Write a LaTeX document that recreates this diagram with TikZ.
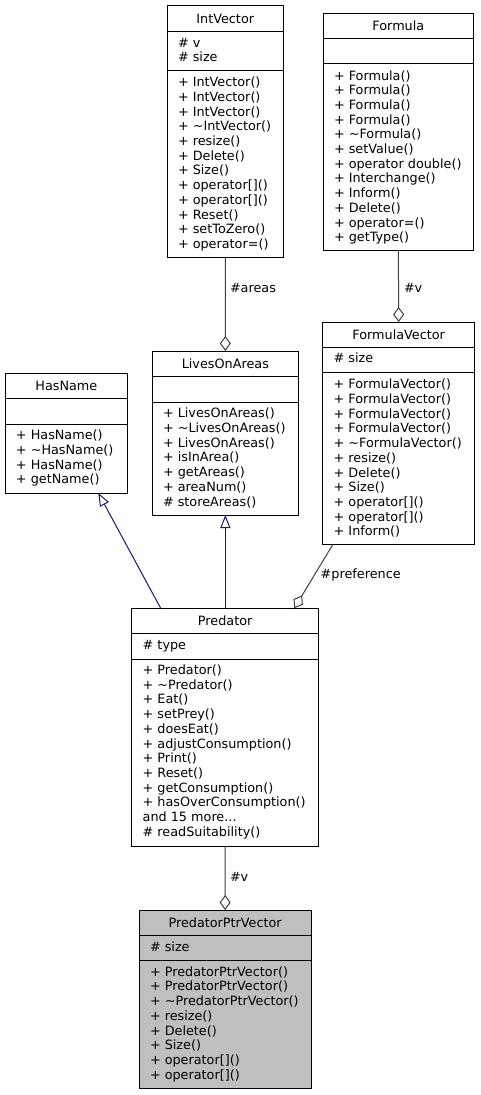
\documentclass[tikz,border=0pt]{standalone}
\usepackage{fontspec}
\setmainfont{DejaVu Sans}
\usetikzlibrary{arrows.meta}
\definecolor{aggcol}{HTML}{404040}
\definecolor{inhcol}{HTML}{191970}
\definecolor{hlfill}{HTML}{BFBFBF}
\tikzset{
  clsbox/.style={draw=black, line width=1pt, rectangle, inner sep=0pt, outer sep=0pt},
  clsline/.style={draw=black, line width=1pt},
  txt/.style={inner sep=0pt, outer sep=0pt, anchor=base west, font=\fontsize{12.8}{14.7}\selectfont},
  ttl/.style={inner sep=0pt, outer sep=0pt, anchor=base, font=\fontsize{12.8}{14.7}\selectfont},
  lbl/.style={inner sep=0pt, outer sep=0pt, anchor=west, font=\fontsize{12.8}{14.7}\selectfont},
  agg/.style={draw=aggcol, line width=1pt, -{Diamond[fill=white, length=15pt, width=11pt, line width=1pt]}},
  inh/.style={draw=inhcol, line width=1pt, -{Triangle[fill=white, length=13pt, width=10pt, line width=1pt]}},
}
% #1 name, #2 L, #3 R, #4 T, #5 S1, #6 S2, #7 B, #8 fill, #9 title
\newcommand{\clsboxdraw}[9]{%
  \node[clsbox, fill=#8, minimum width={(#3-#2)*1pt}, minimum height={(#7-#4)*1pt}] (#1) at ({(#2+#3)/2},{(#4+#7)/2}) {};
  \draw[clsline] (#2,#5) -- (#3,#5);
  \draw[clsline] (#2,#6) -- (#3,#6);
  \node[ttl] (#1-title) at ({(#2+#3)/2},{#4+17.5}) {#9};
}
% #1 name, #2 L, #3 Y start, #4 list
\newcommand{\clslines}[4]{%
  \foreach \t [count=\i] in {#4} {
    \node[txt] (#1-\i) at ({#2+11},{#3+(\i-1)*14.7}) {\t};
  }
}
\newcommand{\moredots}{.{}.{}.}
\begin{document}
\begin{tikzpicture}[x=1pt, y=-1pt]
\useasboundingbox (0,0) rectangle (480,1095);

% IntVector
\clsboxdraw{intvector}{167}{283.5}{5.7}{31.3}{70.7}{257.7}{white}{IntVector}
\clslines{intvectora}{167}{47.1}{\# v, \# size}
\clslines{intvectorm}{167}{86.7}{+ IntVector(), + IntVector(), + IntVector(), + \textasciitilde IntVector(), + resize(), + Delete(), + Size(), + operator[](), + operator[](), + Reset(), + setToZero(), + operator=()}

% Formula
\clsboxdraw{formula}{323}{473.7}{13.3}{38.3}{63.7}{250.3}{white}{Formula}
\clslines{formulam}{323}{80}{+ Formula(), + Formula(), + Formula(), + Formula(), + \textasciitilde Formula(), + setValue(), + operator double(), + Interchange(), + Inform(), + Delete(), + operator=(), + getType()}

% HasName
\clsboxdraw{hasname}{5}{127.7}{373.3}{398.7}{424.3}{493}{white}{HasName}
\clslines{hasnamem}{5}{439.8}{+ HasName(), + \textasciitilde HasName(), + HasName(), + getName()}

% LivesOnAreas
\clsboxdraw{livesonareas}{152}{298.7}{351}{376.7}{402}{515}{white}{LivesOnAreas}
\clslines{livesonareasm}{152}{417.8}{+ LivesOnAreas(), + \textasciitilde LivesOnAreas(), + LivesOnAreas(), + isInArea(), + getAreas(), + areaNum(), \# storeAreas()}

% FormulaVector
\clsboxdraw{formulavector}{322.7}{474.7}{322}{347.3}{372.7}{544.7}{white}{FormulaVector}
\clslines{formulavectora}{322.7}{362.8}{\# size}
\clslines{formulavectorm}{322.7}{388.8}{+ FormulaVector(), + FormulaVector(), + FormulaVector(), + FormulaVector(), + \textasciitilde FormulaVector(), + resize(), + Delete(), + Size(), + operator[](), + operator[](), + Inform()}

% Predator
\clsboxdraw{predator}{131.7}{318.7}{608.3}{633.7}{659.3}{846}{white}{Predator}
\clslines{predatora}{131.7}{649.5}{\# type}
\clslines{predatorm}{131.7}{674.5}{+ Predator(), + \textasciitilde Predator(), + Eat(), + setPrey(), + doesEat(), + adjustConsumption(), + Print(), + Reset(), + getConsumption(), + hasOverConsumption(), {and 15 more\moredots}, {\# readSuitability()}}

% PredatorPtrVector
\clsboxdraw{predatorptrvector}{139}{311.3}{910}{935}{960.3}{1088.7}{hlfill}{PredatorPtrVector}
\clslines{predatorptrvectora}{139}{951.2}{\# size}
\clslines{predatorptrvectorm}{139}{976.2}{+ PredatorPtrVector(), + PredatorPtrVector(), + \textasciitilde PredatorPtrVector(), + resize(), + Delete(), + Size(), + operator[](), + operator[]()}

% Connectors
\draw[agg] (intvector.south) -- (livesonareas.north);
\node[lbl] (lblareas) at (230,288.3) {\#areas};
\draw[agg] (formula.south) -- (formulavector.north);
\node[lbl] (lblv1) at (404,288.3) {\#v};
\draw[agg] ([xshift=10pt]formulavector.south west) -- ([xshift=-24.4pt]predator.north east);
\node[lbl] (lblpref) at (320.7,575) {\#preference};
\draw[inh] ([xshift=29pt]predator.north west) -- ([xshift=93.3pt]hasname.south west);
\draw[inh] (livesonareas.south |- predator.north) -- (livesonareas.south);
\draw[agg] (predator.south) -- (predatorptrvector.north);
\node[lbl] (lblv2) at (230,876.7) {\#v};
\end{tikzpicture}
\end{document}
